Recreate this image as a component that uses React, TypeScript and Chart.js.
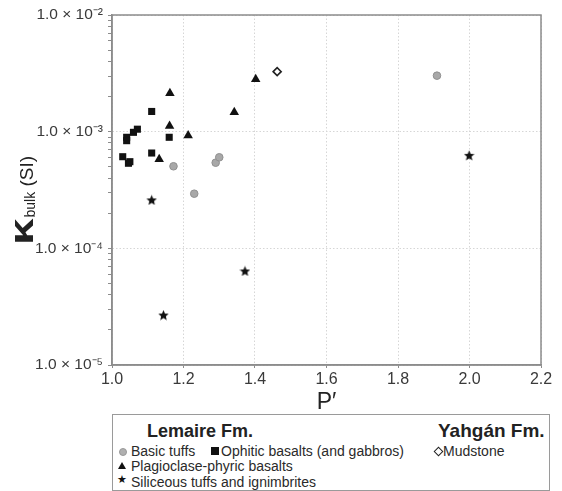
import React, { useEffect, useRef } from "react";
import { Chart, registerables } from "chart.js";

Chart.register(...registerables);

// ---------- data ----------
const xTickValues = [1.0, 1.2, 1.4, 1.6, 1.8, 2.0, 2.2];
const yMajorValues = [1e-5, 1e-4, 1e-3, 1e-2];
const yTickLabels = ["1.0 × 10⁻⁵", "1.0 × 10⁻⁴", "1.0 × 10⁻³", "1.0 × 10⁻²"];

const basicTuffsX = [1.172, 1.29, 1.3, 1.23, 1.909];
const basicTuffsY = [5.05e-4, 5.42e-4, 6.03e-4, 2.94e-4, 3.02e-3];

const ophiticX = [1.111, 1.071, 1.06, 1.041, 1.041, 1.16, 1.111, 1.03, 1.046, 1.05];
const ophiticY = [1.49e-3, 1.05e-3, 9.87e-4, 8.95e-4, 8.37e-4, 8.95e-4, 6.56e-4, 6.1e-4, 5.36e-4, 5.53e-4];

const plagioX = [1.162, 1.342, 1.161, 1.213, 1.132, 1.402];
const plagioY = [2.13e-3, 1.47e-3, 1.12e-3, 9.25e-4, 5.8e-4, 2.81e-3];

const siliceousX = [1.111, 1.372, 1.144, 1.999];
const siliceousY = [2.6e-4, 6.4e-5, 2.68e-5, 6.27e-4];

const mudstoneX = [1.462];
const mudstoneY = [3.27e-3];

const FONT = "'Liberation Sans', Arial, sans-serif";

function toPoints(xs: number[], ys: number[]) {
  return xs.map((x, i) => ({ x, y: ys[i] }));
}

function isMajor(v: number) {
  const l = Math.log10(v);
  return Math.abs(l - Math.round(l)) < 1e-6;
}

function makeStar(size: number, color: string) {
  const c = document.createElement("canvas");
  c.width = size;
  c.height = size;
  const ctx = c.getContext("2d")!;
  const cx = size / 2;
  const cy = size / 2 + 0.5;
  const R = size / 2;
  const r = R * 0.45;
  ctx.beginPath();
  for (let i = 0; i < 10; i++) {
    const a = -Math.PI / 2 + (i * Math.PI) / 5;
    const rad = i % 2 === 0 ? R : r;
    ctx.lineTo(cx + rad * Math.cos(a), cy + rad * Math.sin(a));
  }
  ctx.closePath();
  ctx.fillStyle = color;
  ctx.fill();
  return c;
}

const framePlugin = {
  id: "frameAndTitle",
  afterDraw(chart: any) {
    const { ctx, chartArea } = chart;
    ctx.save();
    ctx.strokeStyle = "#8c8c8c";
    ctx.lineWidth = 1.5;
    ctx.setLineDash([]);
    ctx.strokeRect(chartArea.left, chartArea.top, chartArea.right - chartArea.left, chartArea.bottom - chartArea.top);
    ctx.restore();

    // y-axis title: kappa with "bulk" subscript, then (SI)
    ctx.save();
    ctx.translate(33, 201);
    ctx.rotate(-Math.PI / 2);
    ctx.fillStyle = "#222";
    ctx.textBaseline = "alphabetic";
    const parts = [
      { t: "κ", font: `bold 34px ${FONT}`, dy: 0, sx: 1.4 },
      { t: "bulk", font: `14px ${FONT}`, dy: 2, sx: 1 },
      { t: " (SI)", font: `19px ${FONT}`, dy: 0, sx: 1 },
    ];
    let total = 0;
    const widths: number[] = [];
    for (const p of parts) {
      ctx.font = p.font;
      const w = ctx.measureText(p.t).width * p.sx;
      widths.push(w);
      total += w;
    }
    let x = -total / 2;
    parts.forEach((p, i) => {
      ctx.font = p.font;
      ctx.save();
      ctx.translate(x, p.dy);
      ctx.scale(p.sx, 1);
      ctx.fillText(p.t, 0, 0);
      ctx.restore();
      x += widths[i] + (i === 0 ? 1 : 0);
    });
    ctx.restore();
  },
};

function ChartCanvas() {
  const ref = useRef<HTMLCanvasElement | null>(null);
  useEffect(() => {
    if (!ref.current) return;
    const star = makeStar(11, "#111");
    const chart = new Chart(ref.current, {
      type: "scatter",
      data: {
        datasets: [
          {
            label: "Basic tuffs",
            data: toPoints(basicTuffsX, basicTuffsY),
            pointStyle: "circle",
            pointRadius: 3.8,
            backgroundColor: "#a8a8a8",
            borderColor: "#909090",
            borderWidth: 1,
          },
          {
            label: "Ophitic basalts (and gabbros)",
            data: toPoints(ophiticX, ophiticY),
            pointStyle: "rect",
            pointRadius: 5,
            backgroundColor: "#111",
            borderColor: "#111",
            borderWidth: 0,
          },
          {
            label: "Plagioclase-phyric basalts",
            data: toPoints(plagioX, plagioY),
            pointStyle: "triangle",
            pointRadius: 5.5,
            backgroundColor: "#111",
            borderColor: "#111",
            borderWidth: 0,
          },
          {
            label: "Siliceous tuffs and ignimbrites",
            data: toPoints(siliceousX, siliceousY),
            pointStyle: star as any,
            pointRadius: 5.5,
            backgroundColor: "#111",
            borderColor: "#111",
          },
          {
            label: "Mudstone",
            data: toPoints(mudstoneX, mudstoneY),
            pointStyle: "rectRot",
            pointRadius: 4,
            backgroundColor: "#fff",
            borderColor: "#222",
            borderWidth: 1.6,
          },
        ],
      },
      options: {
        responsive: false,
        animation: false,
        layout: { padding: { left: 0, top: 15, right: 21, bottom: 4 } },
        plugins: { legend: { display: false }, tooltip: { enabled: false } },
        scales: {
          x: {
            type: "linear",
            min: 1.0,
            max: 2.2,
            afterBuildTicks: (s: any) => {
              s.ticks = xTickValues.map((v) => ({ value: v }));
            },
            afterFit: (s: any) => {
              s.height = 51;
            },
            ticks: {
              autoSkip: false,
              maxRotation: 0,
              padding: 2,
              color: "#3a3a3a",
              font: { family: FONT, size: 16 },
              callback: (v: any) => Number(v).toFixed(1),
            },
            grid: {
              color: "#d6d6d6",
              lineWidth: 1,
              tickColor: "#8c8c8c",
              tickLength: 3,
            },
            border: { display: true, color: "#8c8c8c", width: 1.5, dash: [1.5, 2] },
            title: {
              display: true,
              text: "P′",
              color: "#222",
              font: { family: FONT, size: 23 },
              padding: { top: 0, bottom: 0 },
            },
          },
          y: {
            type: "logarithmic",
            min: 1e-5,
            max: 1e-2,
            afterBuildTicks: (s: any) => {
              const ticks: any[] = [];
              for (let d = 0; d < yMajorValues.length - 1; d++) {
                for (let m = 1; m <= 9; m++) {
                  ticks.push({ value: yMajorValues[d] * m, major: m === 1 });
                }
              }
              ticks.push({ value: yMajorValues[yMajorValues.length - 1], major: true });
              s.ticks = ticks;
            },
            afterFit: (s: any) => {
              s.width = 112;
            },
            ticks: {
              autoSkip: false,
              padding: 5,
              color: "#3a3a3a",
              font: { family: FONT, size: 15.5 },
              callback: (v: any) => {
                const idx = yMajorValues.findIndex((m) => Math.abs(Math.log10(m) - Math.log10(Number(v))) < 1e-6);
                return idx >= 0 ? yTickLabels[idx] : "";
              },
            },
            grid: {
              color: (ctx: any) => (ctx.tick && isMajor(ctx.tick.value) ? "#d6d6d6" : "rgba(0,0,0,0)"),
              lineWidth: 1,
              tickColor: "#8c8c8c",
              tickLength: 4,
            },
            border: { display: true, color: "#8c8c8c", width: 1.5, dash: [1.5, 2] },
          },
        },
      },
      plugins: [framePlugin],
    } as any);
    return () => chart.destroy();
  }, []);
  return <canvas ref={ref} width={562} height={420} style={{ position: "absolute", left: 0, top: 0, width: 562, height: 420 }} />;
}

const legendText: React.CSSProperties = {
  position: "absolute",
  fontFamily: FONT,
  fontSize: 14,
  lineHeight: "16px",
  color: "#2a2a2a",
  whiteSpace: "nowrap",
};

function Legend() {
  return (
    <div
      style={{
        position: "absolute",
        left: 112,
        top: 414,
        width: 438,
        height: 77,
        border: "1px solid #9a9a9a",
        boxSizing: "border-box",
        background: "#fff",
      }}
    >
      <div style={{ ...legendText, left: 34, top: 6, fontSize: 18, fontWeight: "bold", lineHeight: "20px", color: "#222" }}>
        Lemaire Fm.
      </div>
      <div style={{ ...legendText, left: 325, top: 6, fontSize: 19, fontWeight: "bold", lineHeight: "20px", color: "#222" }}>
        Yahgán Fm.
      </div>

      {/* row 1 */}
      <div style={{ position: "absolute", left: 6, top: 33, width: 6, height: 6, borderRadius: "50%", background: "#b0b0b0", border: "0.5px solid #999" }} />
      <div style={{ ...legendText, left: 18, top: 28 }}>Basic tuffs</div>
      <div style={{ position: "absolute", left: 98, top: 32, width: 8, height: 8, background: "#111" }} />
      <div style={{ ...legendText, left: 108, top: 28 }}>Ophitic basalts (and gabbros)</div>
      <div style={{ position: "absolute", left: 322, top: 33, width: 5, height: 5, transform: "rotate(45deg)", border: "1.5px solid #222", background: "#fff" }} />
      <div style={{ ...legendText, left: 330, top: 28 }}>Mudstone</div>

      {/* row 2 */}
      <div
        style={{
          position: "absolute",
          left: 5,
          top: 47,
          width: 0,
          height: 0,
          borderLeft: "4px solid transparent",
          borderRight: "4px solid transparent",
          borderBottom: "7px solid #111",
        }}
      />
      <div style={{ ...legendText, left: 18, top: 43 }}>Plagioclase-phyric basalts</div>

      {/* row 3 */}
      <div style={{ position: "absolute", left: 4, top: 59, fontSize: 11, lineHeight: "12px", color: "#111", fontFamily: "DejaVu Sans" }}>★</div>
      <div style={{ ...legendText, left: 18, top: 59 }}>Siliceous tuffs and ignimbrites</div>
    </div>
  );
}

export default function App() {
  return (
    <div style={{ position: "absolute", left: 0, top: 0, width: 562, height: 491, background: "#fff", overflow: "hidden" }}>
      <ChartCanvas />
      <Legend />
    </div>
  );
}
